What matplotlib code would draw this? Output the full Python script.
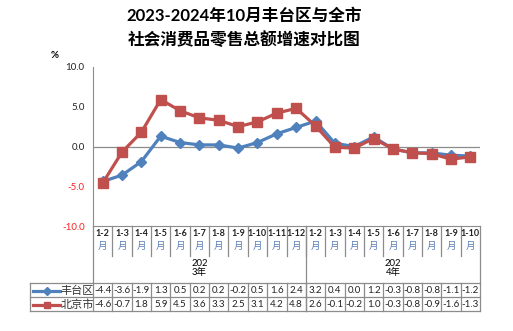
import numpy as np
import matplotlib.pyplot as plt
from matplotlib.lines import Line2D
from matplotlib.transforms import blended_transform_factory

plt.rcParams['font.family'] = ['Lato', 'Noto Sans CJK SC', 'DejaVu Sans']

months_2023 = ['1-2', '1-3', '1-4', '1-5', '1-6', '1-7', '1-8', '1-9', '1-10', '1-11', '1-12']
months_2024 = ['1-2', '1-3', '1-4', '1-5', '1-6', '1-7', '1-8', '1-9', '1-10']
years = ['202\n3年', '202\n4年']
fengtai = [-4.4, -3.6, -1.9, 1.3, 0.5, 0.2, 0.2, -0.2, 0.5, 1.6, 2.4,
           3.2, 0.4, 0.0, 1.2, -0.3, -0.8, -0.8, -1.1, -1.2]
beijing = [-4.6, -0.7, 1.8, 5.9, 4.5, 3.6, 3.3, 2.5, 3.1, 4.2, 4.8,
           2.6, -0.1, -0.2, 1.0, -0.3, -0.8, -0.9, -1.6, -1.3]
series_names = ['丰台区', '北京市']

BLUE = '#4F81BD'
RED = '#C0504D'
GRID = '#8c8c8c'

W, H = 513, 331
fig = plt.figure(figsize=(W / 100, H / 100), dpi=100)

def fy(px):
    return 1 - px / H

def fx(px):
    return px / W

ax = fig.add_axes([fx(93), fy(226), fx(480) - fx(93), fy(67) - fy(226)])
cats = months_2023 + months_2024
n = len(cats)
x = np.arange(n)

ax.plot(x, fengtai, color=BLUE, lw=2.3, marker='D', ms=5.5, zorder=3)
ax.plot(x, beijing, color=RED, lw=2.3, marker='s', ms=6.5, zorder=4)
ax.axhline(0, color=GRID, lw=0.9, zorder=1)

ax.set_xlim(-0.5, n - 0.5)
ax.set_ylim(-10, 10)
ax.set_yticks([-10, -5, 0, 5, 10])
ax.set_yticklabels(['-10.0', '-5.0', '0.0', '5.0', '10.0'], fontsize=7)
for lab, v in zip(ax.get_yticklabels(), [-10, -5, 0, 5, 10]):
    lab.set_color('#ff2020' if v < 0 else '#222222')
ax.tick_params(axis='y', length=0, pad=6)
ax.set_xticks([])
for s in ['top', 'right']:
    ax.spines[s].set_visible(False)
ax.spines['left'].set_color(GRID)
ax.spines['bottom'].set_color(GRID)

fig.text(fx(55), fy(55), '%', fontsize=7, fontweight='bold', ha='center', va='center')
fig.text(fx(244), fy(16), '2023-2024年10月丰台区与全市', fontsize=12, fontweight='bold',
         ha='center', va='center')
fig.text(fx(244), fy(40), '社会消费品零售总额增速对比图', fontsize=12, fontweight='bold',
         ha='center', va='center')

# category axis + data table
tr = blended_transform_factory(ax.transData, fig.transFigure)
lkw = dict(color=GRID, lw=0.9, clip_on=False, transform=tr)
for i in range(n):
    ax.text(x[i], fy(234), cats[i], fontsize=6.5, fontweight='bold', ha='center',
            va='center', transform=tr, color='#222222')
    ax.text(x[i], fy(246), '月', fontsize=6.8, ha='center', va='center',
            transform=tr, color='#5b7fb5')
    ax.text(x[i], fy(290.5), f'{fengtai[i]:.1f}', fontsize=7, ha='center',
            va='center', transform=tr, color='#222222')
    ax.text(x[i], fy(304.5), f'{beijing[i]:.1f}', fontsize=7, ha='center',
            va='center', transform=tr, color='#222222')
    if i > 0:
        ax.add_line(Line2D([i - 0.5, i - 0.5], [fy(226), fy(256)], **lkw))
        ax.add_line(Line2D([i - 0.5, i - 0.5], [fy(283), fy(311)], **lkw))

split = len(months_2023) - 0.5
for xs in [-0.5, split, n - 0.5]:
    ax.add_line(Line2D([xs, xs], [fy(226), fy(311)], **lkw))
ax.text((-0.5 + split) / 2, fy(268), years[0], fontsize=6.8, ha='center', va='center',
        transform=tr, linespacing=1.0)
ax.text((split + n - 0.5) / 2, fy(268), years[1], fontsize=6.8, ha='center', va='center',
        transform=tr, linespacing=1.0)

for py in [283, 297, 311]:
    fig.add_artist(Line2D([fx(30), fx(480)], [fy(py), fy(py)], color=GRID, lw=0.9))
fig.add_artist(Line2D([fx(30), fx(30)], [fy(283), fy(311)], color=GRID, lw=0.9))

# legend keys inside table
for py, col, mk, ms, name in [(290.5, BLUE, 'D', 4.5, series_names[0]),
                              (304.5, RED, 's', 5, series_names[1])]:
    fig.add_artist(Line2D([fx(33), fx(60)], [fy(py), fy(py)], color=col, lw=2.3))
    fig.add_artist(Line2D([fx(46.5)], [fy(py)], color=col, marker=mk, ms=ms, lw=0))
    fig.text(fx(77), fy(py), name, fontsize=8, ha='center', va='center', color='#333333')

fig.savefig('out.png', dpi=100)
